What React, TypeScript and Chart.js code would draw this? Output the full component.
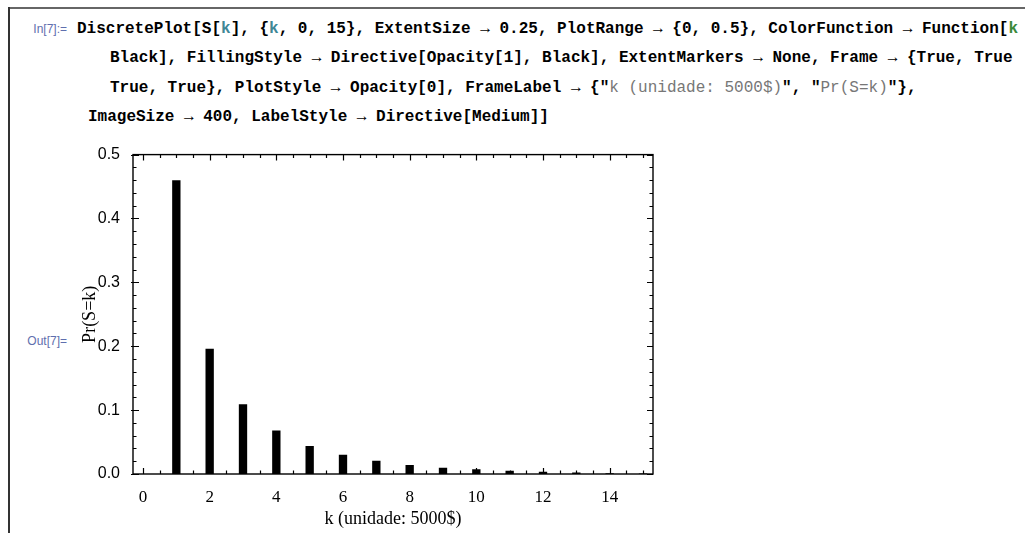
import React, { useEffect, useRef } from "react";
import { Chart, registerables } from "chart.js";

Chart.register(...registerables);

// ---- data ----
const K_VALUES = [0, 1, 2, 3, 4, 5, 6, 7, 8, 9, 10, 11, 12, 13, 14, 15];
const PROB = [0, 0.46, 0.196, 0.109, 0.068, 0.0437, 0.030, 0.0208, 0.014, 0.0099, 0.0073, 0.0052, 0.0035, 0.0025, 0.0013, 0.0008];
const X_TICK_LABELS = [0, 2, 4, 6, 8, 10, 12, 14];
const Y_TICK_LABELS = [0, 0.1, 0.2, 0.3, 0.4, 0.5];
const X_TITLE = "k (unidade: 5000$)";
const Y_TITLE = "Pr(S=k)";

const framePlugin = {
  id: "mmaFrame",
  afterDatasetsDraw(chart: any) {
    const { ctx, chartArea: a, scales } = chart;
    const xs = scales.x;
    const ys = scales.y;
    ctx.save();
    ctx.strokeStyle = "#000";
    ctx.lineWidth = 1.4;
    ctx.strokeRect(a.left, a.top, a.right - a.left, a.bottom - a.top);
    ctx.lineWidth = 1.2;
    ctx.beginPath();
    // x ticks every 0.5, majors at even integers
    for (let i = 0; i <= 30; i++) {
      const v = i / 2;
      const px = Math.round(xs.getPixelForValue(v)) + 0.5;
      const major = i % 4 === 0;
      const len = major ? 6 : 3.5;
      ctx.moveTo(px, a.bottom);
      ctx.lineTo(px, a.bottom - len);
      ctx.moveTo(px, a.top);
      ctx.lineTo(px, a.top + len);
    }
    // y ticks every 0.02, majors every 0.1
    for (let i = 0; i <= 25; i++) {
      const v = i * 0.02;
      const py = Math.round(ys.getPixelForValue(v)) + 0.5;
      const major = i % 5 === 0;
      const len = major ? 6 : 3.5;
      ctx.moveTo(a.left - (major ? 2 : 0), py);
      ctx.lineTo(a.left + len, py);
      ctx.moveTo(a.right, py);
      ctx.lineTo(a.right - len, py);
    }
    ctx.stroke();
    ctx.restore();
  },
};

function DiscreteChart() {
  const ref = useRef<HTMLCanvasElement | null>(null);
  useEffect(() => {
    if (!ref.current) return;
    const chart = new Chart(ref.current, {
      type: "bar",
      data: {
        datasets: [
          {
            data: K_VALUES.map((k, i) => ({ x: k, y: PROB[i] })),
            backgroundColor: "#000",
            borderWidth: 0,
            barPercentage: 0.25,
            categoryPercentage: 1,
          },
        ],
      },
      options: {
        responsive: false,
        animation: false,
        devicePixelRatio: 1,
        layout: { padding: { top: 14, right: 17, left: 0, bottom: 0 } },
        plugins: { legend: { display: false }, tooltip: { enabled: false } },
        scales: {
          x: {
            type: "linear",
            min: -0.3,
            max: 15.3,
            offset: false,
            grid: { display: false },
            border: { display: false },
            afterBuildTicks: (scale: any) => {
              scale.ticks = X_TICK_LABELS.map((v) => ({ value: v }));
            },
            afterFit: (scale: any) => {
              scale.height = 59;
            },
            ticks: {
              color: "#000",
              padding: 5,
              maxRotation: 0,
              autoSkip: false,
              font: { family: '"Liberation Serif", "Times New Roman", serif', size: 17 },
              callback: (v: any) => String(v),
            },
            title: {
              display: true,
              text: X_TITLE,
              color: "#000",
              padding: { top: 0, bottom: 3 },
              font: { family: '"Liberation Serif", "Times New Roman", serif', size: 18 },
            },
          },
          y: {
            type: "linear",
            min: 0,
            max: 0.5,
            grid: { display: false },
            border: { display: false },
            afterBuildTicks: (scale: any) => {
              scale.ticks = Y_TICK_LABELS.map((v) => ({ value: v }));
            },
            afterFit: (scale: any) => {
              scale.width = 63;
            },
            ticks: {
              color: "#000",
              padding: 5,
              autoSkip: false,
              font: { family: '"Liberation Sans Narrow", "Liberation Sans", sans-serif', size: 16 },
              callback: (v: any) => Number(v).toFixed(1),
            },
            title: {
              display: true,
              text: Y_TITLE,
              color: "#000",
              padding: { top: 9, bottom: 0 },
              font: { family: '"Liberation Serif", "Times New Roman", serif', size: 18 },
            },
          },
        },
      },
      plugins: [framePlugin],
    } as any);
    return () => chart.destroy();
  }, []);
  return (
    <canvas
      ref={ref}
      width={600}
      height={393}
      style={{ position: "absolute", left: 70, top: 140, width: 600, height: 393 }}
    />
  );
}

const mono: React.CSSProperties = {
  fontFamily: '"Liberation Mono", "Courier New", monospace',
  fontWeight: "bold",
  fontSize: 16,
  color: "#000",
  whiteSpace: "pre",
  position: "absolute",
  lineHeight: "20px",
};
const TEAL = "#3f8796";
const GREEN = "#3a8a3a";
const STR = "#777";
const LBL: React.CSSProperties = {
  position: "absolute",
  fontFamily: '"Liberation Sans", Arial, sans-serif',
  fontSize: 12,
  color: "#5f6fae",
  lineHeight: "20px",
  width: 60,
  textAlign: "right",
  left: 7,
};

export default function App() {
  return (
    <div
      style={{
        position: "absolute",
        left: 0,
        top: 0,
        width: 1025,
        height: 533,
        background: "#fff",
        overflow: "hidden",
      }}
    >
      <div style={{ position: "absolute", left: 9, top: 7, right: 0, height: 2, background: "#666" }} />
      <div style={{ position: "absolute", left: 8, top: 7, width: 2, bottom: 0, background: "#333" }} />

      <div style={{ ...LBL, top: 19 }}>In[7]:=</div>
      <div style={{ ...mono, left: 77, top: 19 }}>
        {"DiscretePlot[S["}
        <span style={{ color: TEAL }}>k</span>
        {"], {"}
        <span style={{ color: TEAL }}>k</span>
        {", 0, 15}, ExtentSize \u2192 0.25, PlotRange \u2192 {0, 0.5}, ColorFunction \u2192 Function["}
        <span style={{ color: GREEN }}>k</span>
      </div>
      <div style={{ ...mono, left: 110, top: 48 }}>
        {"Black], FillingStyle \u2192 Directive[Opacity[1], Black], ExtentMarkers \u2192 None, Frame \u2192 {True, True"}
      </div>
      <div style={{ ...mono, left: 110, top: 78 }}>
        {"True, True}, PlotStyle \u2192 Opacity[0], FrameLabel \u2192 {\""}
        <span style={{ color: STR, fontWeight: "normal" }}>{"k (unidade: 5000$)"}</span>
        {"\", \""}
        <span style={{ color: STR, fontWeight: "normal" }}>{"Pr(S=k)"}</span>
        {"\"},"}
      </div>
      <div style={{ ...mono, left: 88, top: 107 }}>
        {"ImageSize \u2192 400, LabelStyle \u2192 Directive[Medium]]"}
      </div>

      <div style={{ ...LBL, top: 331 }}>Out[7]=</div>

      <DiscreteChart />
    </div>
  );
}
